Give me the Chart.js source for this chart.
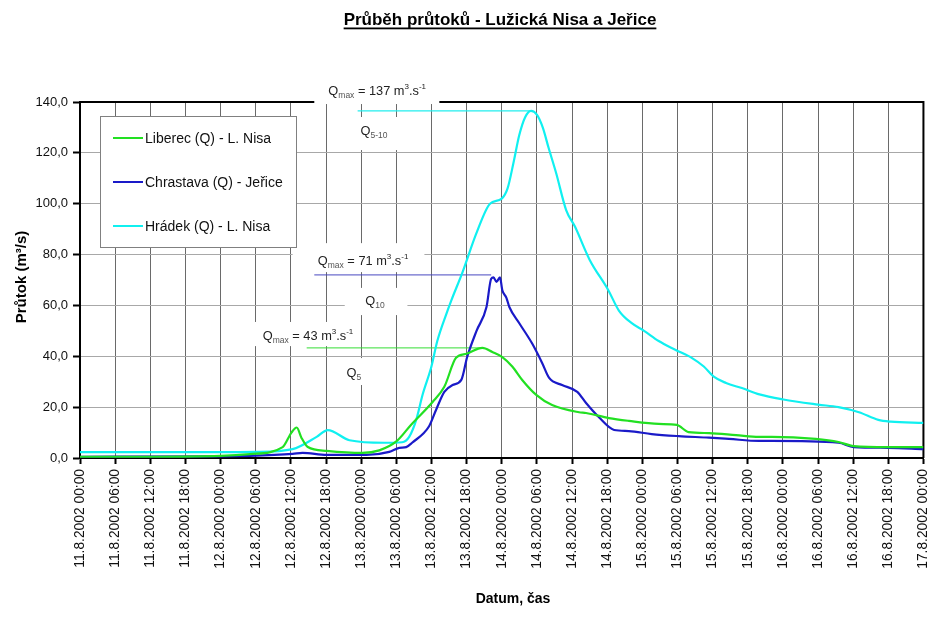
<!DOCTYPE html>
<html>
<head>
<meta charset="utf-8">
<script src="https://cdn.jsdelivr.net/npm/chart.js@4/dist/chart.umd.min.js"></script>
<style>
html,body{margin:0;padding:0;background:#fff;}
canvas{display:block;}
</style>
</head>
<body>
<canvas id="c" width="945" height="621"></canvas>
<script>
// ---- data (hours since 11.8.2002 00:00, flow m3/s) ----
const chartTitle = "Průběh průtoků - Lužická Nisa a Jeřice";
const yAxisTitle = "Průtok (m³/s)";
const xAxisTitle = "Datum, čas";
const seriesNames = ["Liberec (Q) - L. Nisa", "Chrastava (Q) - Jeřice", "Hrádek (Q) - L. Nisa"];

const liberecHours = [0, 12, 24, 29, 34.6, 36.1, 37.0, 37.8, 38.9, 42.1, 48.2, 51.1, 54, 56.5, 60.2, 62.2, 64.2, 66.0, 68.7, 70.4, 72.1, 73.8, 75.5, 77.9, 80.6, 85.2, 86.4, 90.3, 93.7, 98.8, 101.9, 103.9, 107.4, 112.0, 115.9, 118.1, 125.6, 129.5, 132.1, 138.0, 144];
const liberecValues = [0.5, 0.5, 0.8, 1.5, 4.3, 10, 12, 8, 4.3, 2.8, 2, 3, 6.5, 13, 22, 28, 39.4, 41, 43.3, 41.7, 39.7, 36, 30.7, 24.8, 20.8, 18, 17.7, 15.7, 14.6, 13.4, 13, 10.2, 9.8, 9, 8.3, 8.3, 7.5, 6.3, 4.7, 4.3, 4.3];

const chrastavaHours = [0, 24, 29, 36.3, 38.0, 42.1, 48.9, 52.8, 54.5, 55.7, 56.7, 59.6, 60.8, 62.2, 63.6, 65.1, 66.1, 67.7, 69.4, 70.2, 70.6, 71.1, 71.7, 72.1, 72.8, 73.3, 75.0, 77.2, 78.9, 80.1, 82.3, 84.9, 86.4, 88.6, 91.2, 93.7, 97.6, 102.2, 107.4, 110.8, 115.9, 118.1, 129.5, 132.1, 138.0, 144];
const chrastavaValues = [0.5, 0.6, 0.8, 1.6, 2, 1.2, 1.2, 2.4, 4, 4.3, 6, 12.5, 19, 26, 28.7, 30.7, 39.7, 50, 59.4, 70.5, 71, 69.3, 71, 66, 63, 59.4, 53, 45, 37.4, 31.5, 28.7, 26, 21.6, 16, 11, 10.6, 9.4, 8.6, 8, 7.5, 6.7, 6.7, 6, 4.3, 4, 3.5];

const hradekHours = [0, 12, 24, 30, 36.3, 40.4, 42.3, 46, 52, 55, 56.2, 57.4, 58.5, 60, 61, 62.6, 63.4, 65.3, 67.7, 70, 72, 73, 74, 75, 76, 77, 78, 79, 80, 81.3, 83, 84.5, 87, 90.2, 92, 94.2, 96.3, 98.8, 101.7, 104.5, 106.5, 108.2, 110.3, 113, 116, 120.1, 126, 129.5, 133, 136.3, 138.4, 144];
const hradekValues = [2.3, 2.3, 2.3, 2.4, 3.5, 8.3, 11, 7, 6, 6.2, 8.3, 15, 25, 36, 46, 57, 62, 73, 88.5, 100, 102, 106, 116, 127, 134, 136.5, 135, 130, 122, 112, 97.5, 91, 78, 66, 58, 53, 50, 46, 42.5, 39.3, 36, 32, 29.5, 27.5, 25, 23, 21, 20, 18, 15, 14.3, 13.8];

// Qmax reference lines [startHour, endHour, value]
const qmaxLiberec = [38.7, 68.7, 43.3];
const qmaxChrastava = [40.0, 70.2, 72];
const qmaxHradek = [47.4, 77.0, 136.5];

const xTickLabels = [
 "11.8.2002 00:00","11.8.2002 06:00","11.8.2002 12:00","11.8.2002 18:00",
 "12.8.2002 00:00","12.8.2002 06:00","12.8.2002 12:00","12.8.2002 18:00",
 "13.8.2002 00:00","13.8.2002 06:00","13.8.2002 12:00","13.8.2002 18:00",
 "14.8.2002 00:00","14.8.2002 06:00","14.8.2002 12:00","14.8.2002 18:00",
 "15.8.2002 00:00","15.8.2002 06:00","15.8.2002 12:00","15.8.2002 18:00",
 "16.8.2002 00:00","16.8.2002 06:00","16.8.2002 12:00","16.8.2002 18:00",
 "17.8.2002 00:00"];
const yTickLabels = ["0,0","20,0","40,0","60,0","80,0","100,0","120,0","140,0"];

// annotation texts
const qLabels = [
 {parts:[["Q","n"],["max","sub"],[" = 137 m","n"],["3","sup"],[".s","n"],["-1","sup"]], at:[42.4,142.7], box:[40.0,61.35,149.4,139.2]},
 {parts:[["Q","n"],["5-10","sub"]], at:[47.9,127.0], box:[45.2,54.5,134.1,121.1]},
 {parts:[["Q","n"],["max","sub"],[" = 71 m","n"],["3","sup"],[".s","n"],["-1","sup"]], at:[40.6,75.9], box:[36.3,58.8,84.5,73.1]},
 {parts:[["Q","n"],["10","sub"]], at:[48.7,60.2], box:[45.2,55.9,66.9,56.2]},
 {parts:[["Q","n"],["max","sub"],[" = 43 m","n"],["3","sup"],[".s","n"],["-1","sup"]], at:[31.2,46.4], box:[29.8,47.7,53.5,44.0]},
 {parts:[["Q","n"],["5","sub"]], at:[45.5,31.9], box:[43.5,51.1,39.3,28.7]}
];

const FONT = "'Liberation Sans', Arial, sans-serif";
const colors = ["#22e022", "#1a1ac8", "#10f0f0"];

function pts(h, v){ return h.map((x,i)=>({x:x, y:v[i]})); }
function qline(q){ return [{x:q[0],y:q[2]},{x:q[1],y:q[2]}]; }

const decorPlugin = {
  id:'decor',
  beforeDatasetsDraw(chart){
    const ctx = chart.ctx, a = chart.chartArea, xs = chart.scales.x, ys = chart.scales.y;
    ctx.save();
    // top & right frame
    ctx.strokeStyle = '#000'; ctx.lineWidth = 2;
    ctx.beginPath();
    ctx.moveTo(a.left, a.top); ctx.lineTo(a.right, a.top); ctx.lineTo(a.right, a.bottom);
    ctx.stroke();
    // annotation boxes + texts
    qLabels.forEach(l=>{
      const x1 = xs.getPixelForValue(l.box[0]), x2 = xs.getPixelForValue(l.box[1]);
      const y1 = ys.getPixelForValue(l.box[2]), y2 = ys.getPixelForValue(l.box[3]);
      ctx.fillStyle = '#fff';
      ctx.fillRect(x1, y1, x2-x1, y2-y1);
      let x = xs.getPixelForValue(l.at[0]);
      const y = ys.getPixelForValue(l.at[1]);
      ctx.textBaseline = 'alphabetic'; ctx.textAlign = 'left';
      l.parts.forEach(p=>{
        let size = 12.8, dy = 0, col = '#222';
        if (p[1]==='sub'){ size = 8.5; dy = 3; col = '#555'; }
        if (p[1]==='sup'){ size = 8; dy = -6; }
        ctx.font = size + 'px ' + FONT;
        ctx.fillStyle = col;
        ctx.fillText(p[0], x, y+dy);
        x += ctx.measureText(p[0]).width;
      });
    });
    ctx.restore();
  },
  afterDatasetsDraw(chart){
    const ctx = chart.ctx;
    ctx.save();
    // legend box
    ctx.fillStyle = '#fff';
    ctx.fillRect(100.5, 116.5, 196, 131);
    ctx.strokeStyle = '#808080'; ctx.lineWidth = 1;
    ctx.strokeRect(100.5, 116.5, 196, 131);
    const rows = [138, 182, 226];
    ctx.font = '14px ' + FONT; ctx.textBaseline = 'middle'; ctx.textAlign = 'left';
    seriesNames.forEach((n,i)=>{
      ctx.strokeStyle = colors[i]; ctx.lineWidth = 2;
      ctx.beginPath(); ctx.moveTo(113, rows[i]); ctx.lineTo(143, rows[i]); ctx.stroke();
      ctx.fillStyle = '#111';
      ctx.fillText(n, 145, rows[i]+1);
    });
    ctx.restore();
  },
  afterDraw(chart){
    const ctx = chart.ctx;
    ctx.save();
    ctx.fillStyle = '#000';
    // main title
    ctx.font = 'bold 17px ' + FONT; ctx.textAlign = 'center'; ctx.textBaseline = 'alphabetic';
    ctx.fillText(chartTitle, 500, 25);
    const w = ctx.measureText(chartTitle).width;
    ctx.fillRect(500 - w/2, 27.5, w, 1.8);
    // x title
    ctx.font = 'bold 14px ' + FONT;
    ctx.fillText(xAxisTitle, 513, 603);
    // y title
    ctx.font = 'bold 15px ' + FONT;
    ctx.translate(26, 277); ctx.rotate(-Math.PI/2);
    ctx.fillText(yAxisTitle, 0, 0);
    ctx.restore();
  }
};

const lineBase = {borderWidth:2.2, pointRadius:0, cubicInterpolationMode:'monotone', fill:false};

new Chart(document.getElementById('c'), {
  type:'line',
  data:{
    datasets:[
      Object.assign({label:seriesNames[0], data:pts(liberecHours, liberecValues), borderColor:colors[0]}, lineBase),
      Object.assign({label:seriesNames[1], data:pts(chrastavaHours, chrastavaValues), borderColor:colors[1]}, lineBase),
      Object.assign({label:seriesNames[2], data:pts(hradekHours, hradekValues), borderColor:colors[2]}, lineBase),
      {label:'qmaxL', data:qline(qmaxLiberec), borderColor:'#33dd33', borderWidth:1, pointRadius:0},
      {label:'qmaxC', data:qline(qmaxChrastava), borderColor:'#4848c0', borderWidth:1, pointRadius:0},
      {label:'qmaxH', data:qline(qmaxHradek), borderColor:'#22eeee', borderWidth:1.2, pointRadius:0}
    ]
  },
  options:{
    responsive:false, animation:false, devicePixelRatio:1,
    layout:{padding:{left:0, right:20, top:102, bottom:0}},
    plugins:{legend:{display:false}, tooltip:{enabled:false}, title:{display:false}},
    scales:{
      x:{
        type:'linear', min:0, max:144,
        afterFit(s){ s.height = 163; },
        ticks:{stepSize:6, autoSkip:false, maxRotation:90, minRotation:90, padding:5,
          color:'#111', font:{family:FONT, size:13.8},
          callback:(v)=> xTickLabels[Math.round(v/6)]},
        grid:{color:'#6a6a6a', lineWidth:1, tickColor:'#000', tickLength:6, tickWidth:2},
        border:{color:'#000', width:2}
      },
      y:{
        min:0, max:140,
        afterFit(s){ s.width = 80; },
        ticks:{stepSize:20, padding:5, color:'#111', font:{family:FONT, size:13},
          callback:(v)=> yTickLabels[Math.round(v/20)]},
        grid:{color:'#a8a8a8', lineWidth:1, tickColor:'#000', tickLength:7, tickWidth:2},
        border:{color:'#000', width:2}
      }
    }
  },
  plugins:[decorPlugin]
});
</script>
</body>
</html>
